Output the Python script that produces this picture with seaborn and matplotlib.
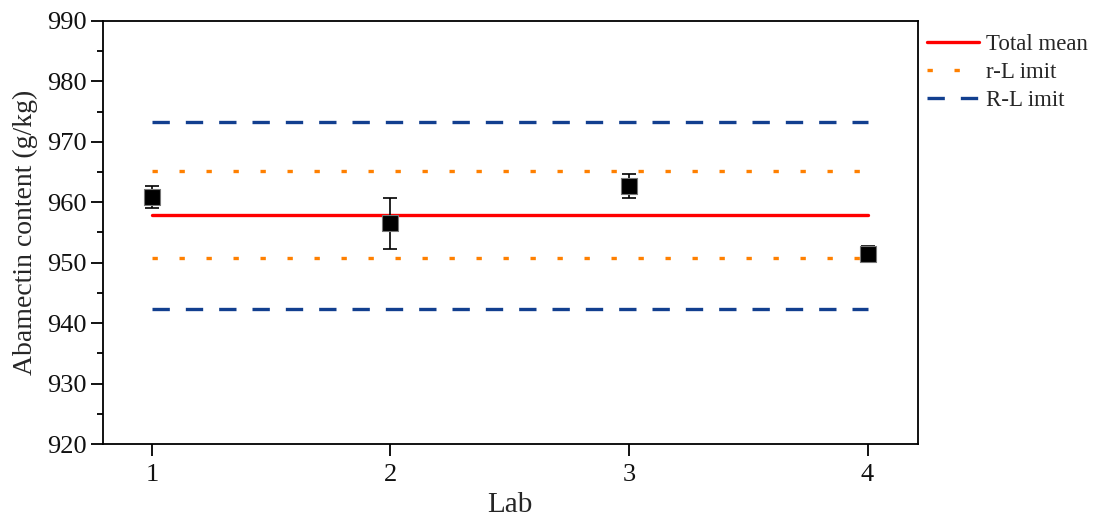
import numpy as np
import pandas as pd
import matplotlib
matplotlib.use("Agg")
import matplotlib.pyplot as plt
import seaborn as sns
from matplotlib.ticker import MultipleLocator

# lab results (g/kg) with error bars
labs = [1, 2, 3, 4]
means = [960.9, 956.5, 962.7, 951.5]
errs = [1.8, 4.2, 2.0, 1.2]

# reference lines
total_mean = 957.9
r_limit = [950.7, 965.1]
R_limit = [942.4, 973.2]

sns.set_style("ticks")
plt.rcParams['font.family'] = ['Liberation Serif', 'DejaVu Serif']

fig = plt.figure(figsize=(10.95, 5.23), dpi=100)
ax = fig.add_axes([0.094, 0.151, 0.744, 0.809])

x_span = [labs[0], labs[-1]]
lines = pd.DataFrame({
    'x': x_span * 5,
    'y': [total_mean] * 2 + [r_limit[0]] * 2 + [r_limit[1]] * 2 + [R_limit[0]] * 2 + [R_limit[1]] * 2,
    'grp': ['m'] * 2 + ['r1'] * 2 + ['r2'] * 2 + ['R1'] * 2 + ['R2'] * 2,
})

sns.lineplot(data=lines[lines.grp == 'm'], x='x', y='y', color='#ff0000', lw=2.4, ax=ax, label='Total mean')
sns.lineplot(data=lines[lines.grp == 'r1'], x='x', y='y', color='#ff8000', lw=2.4, ax=ax,
             linestyle=(0, (1.6, 6.5)), label='r-L imit')
sns.lineplot(data=lines[lines.grp == 'r2'], x='x', y='y', color='#ff8000', lw=2.4, ax=ax,
             linestyle=(0, (1.6, 6.5)))
sns.lineplot(data=lines[lines.grp == 'R1'], x='x', y='y', color='#123f8f', lw=2.4, ax=ax,
             linestyle=(0, (5.2, 4.8)), label='R-L imit')
sns.lineplot(data=lines[lines.grp == 'R2'], x='x', y='y', color='#123f8f', lw=2.4, ax=ax,
             linestyle=(0, (5.2, 4.8)))

ax.errorbar(labs, means, yerr=errs, fmt='none', ecolor='black', elinewidth=1.2, capsize=5, capthick=1.2, zorder=3)
sns.scatterplot(x=labs, y=means, marker='s', s=125, color='black', edgecolor='#777777', linewidth=0.8, ax=ax, zorder=4)

ax.set_xlim(0.795, 4.21)
ax.set_ylim(920, 990)
ax.set_xticks(labs)
ax.yaxis.set_major_locator(MultipleLocator(10))
ax.yaxis.set_minor_locator(MultipleLocator(5))
ax.tick_params(axis='both', which='major', labelsize=19, length=8.5, width=1.3, direction='out',
               color='black', labelcolor='#111111')
ax.tick_params(axis='y', which='minor', length=4.5, width=1.3, direction='out', color='black')
ax.tick_params(axis='x', which='major', pad=6)
for s in ax.spines.values():
    s.set_linewidth(1.3)
    s.set_color('black')

ax.set_xlabel('Lab', fontsize=21, labelpad=4)
ax.set_ylabel('Abamectin content (g/kg)', fontsize=20, labelpad=6)

ax.legend(loc='upper left', bbox_to_anchor=(1.0, 0.99), frameon=False, fontsize=16.5,
          handlelength=2.3, handletextpad=0.3, labelspacing=0.3, borderaxespad=0.0)

fig.savefig('out.png', dpi=100)
